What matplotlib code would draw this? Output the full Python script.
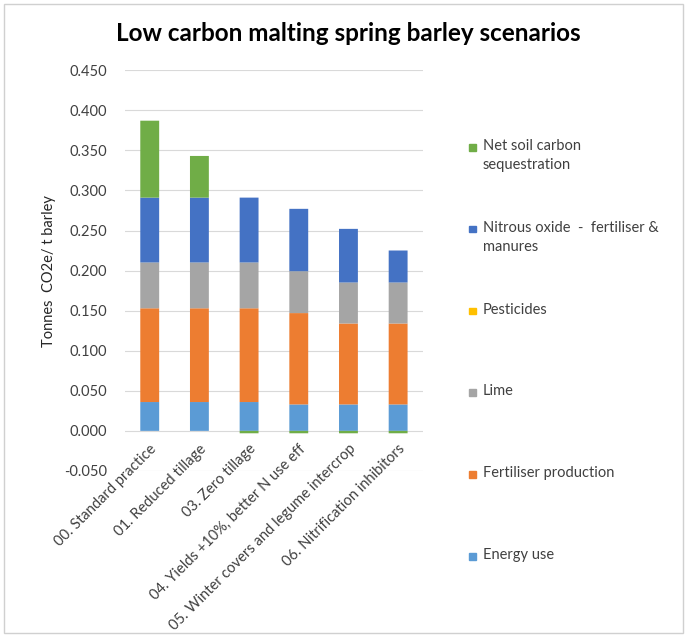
import numpy as np
import matplotlib.pyplot as plt
from matplotlib.patches import Rectangle

plt.rcParams['font.family'] = ['Lato', 'DejaVu Sans']

### data
scenarios = ['00. Standard practice', '01. Reduced tillage', '03. Zero tillage',
             '04. Yields +10%, better N use eff',
             '05. Winter covers and legume intercrop', '06. Nitrification inhibitors']
energy = [0.036, 0.036, 0.036, 0.033, 0.033, 0.033]
fertiliser = [0.117, 0.117, 0.117, 0.114, 0.101, 0.101]
pesticides = [0.0001, 0.0001, 0.0001, 0.0001, 0.0001, 0.0001]  # too thin to see
lime = [0.057, 0.057, 0.057, 0.052, 0.051, 0.051]
nitrous = [0.081, 0.081, 0.081, 0.078, 0.067, 0.040]
soil_carbon = [0.096, 0.052, -0.003, -0.003, -0.003, -0.003]

series = [('Energy use', energy, '#5B9BD5'),
          ('Fertiliser production', fertiliser, '#ED7D31'),
          ('Lime', lime, '#A5A5A5'),
          ('Pesticides', pesticides, '#FFC000'),
          ('Nitrous oxide  -  fertiliser &\nmanures', nitrous, '#4472C4'),
          ('Net soil carbon\nsequestration', soil_carbon, '#70AD47')]

W, H = 690, 639
fig = plt.figure(figsize=(W / 100, H / 100), dpi=100)
ax = fig.add_axes([0.181, 0.263, 0.432, 0.627])
# category axis sits at zero, like excel (set first, it resets the ticks)
ax.spines['bottom'].set_position(('data', 0))

x = np.arange(len(scenarios))
pos_base = np.zeros(len(x))
neg_base = np.zeros(len(x))
for name, vals, col in series:
    v = np.array(vals)
    base = np.where(v >= 0, pos_base, neg_base)
    ax.bar(x, v, 0.38, bottom=base, color=col, label=name, zorder=3, snap=False)
    pos_base += np.where(v >= 0, v, 0)
    neg_base += np.where(v < 0, v, 0)

ax.set_ylim(-0.05, 0.45)
ax.set_xlim(-0.5, len(x) - 0.5)
yt = np.arange(-0.05, 0.451, 0.05)
ax.set_yticks(yt)
ax.set_yticklabels(['%.3f' % t for t in yt], fontsize=10.5, color='#404040')
ax.set_xticks(x)
ax.set_xticklabels(scenarios, rotation=45, ha='right', rotation_mode='anchor',
                   fontsize=10.5, color='#404040')
ax.tick_params(axis='y', length=0, pad=13)
ax.tick_params(axis='x', length=0, pad=8)
ax.grid(axis='y', color='#d9d9d9', linewidth=0.8, zorder=0)
for s in ax.spines.values():
    s.set_visible(False)
ax.set_ylabel('Tonnes  CO2e/ t barley', fontsize=10.5, color='#262626', labelpad=6)

fig.suptitle('Low carbon malting spring barley scenarios', x=0.505, y=0.965,
             fontsize=17.5, fontweight='bold', color='#000000')

# legend spaced evenly top to bottom, the way excel does it
for i, (name, vals, col) in enumerate(series[::-1]):
    yc = 147 + 81.8 * i
    fig.add_artist(Rectangle((469 / W, 1 - (yc + 3.5) / H), 6.5 / W, 6.5 / H,
                             transform=fig.transFigure, color=col))
    fig.text(483 / W, 1 - (yc - 8) / H, name, fontsize=10.5, color='#404040',
             va='top', ha='left', linespacing=1.5)

# light frame around the chart
fig.add_artist(Rectangle((0.006, 0.01), 0.984, 0.983, transform=fig.transFigure,
                         fill=False, edgecolor='#d0d0d0', linewidth=1))

fig.savefig('out.png', dpi=100)
